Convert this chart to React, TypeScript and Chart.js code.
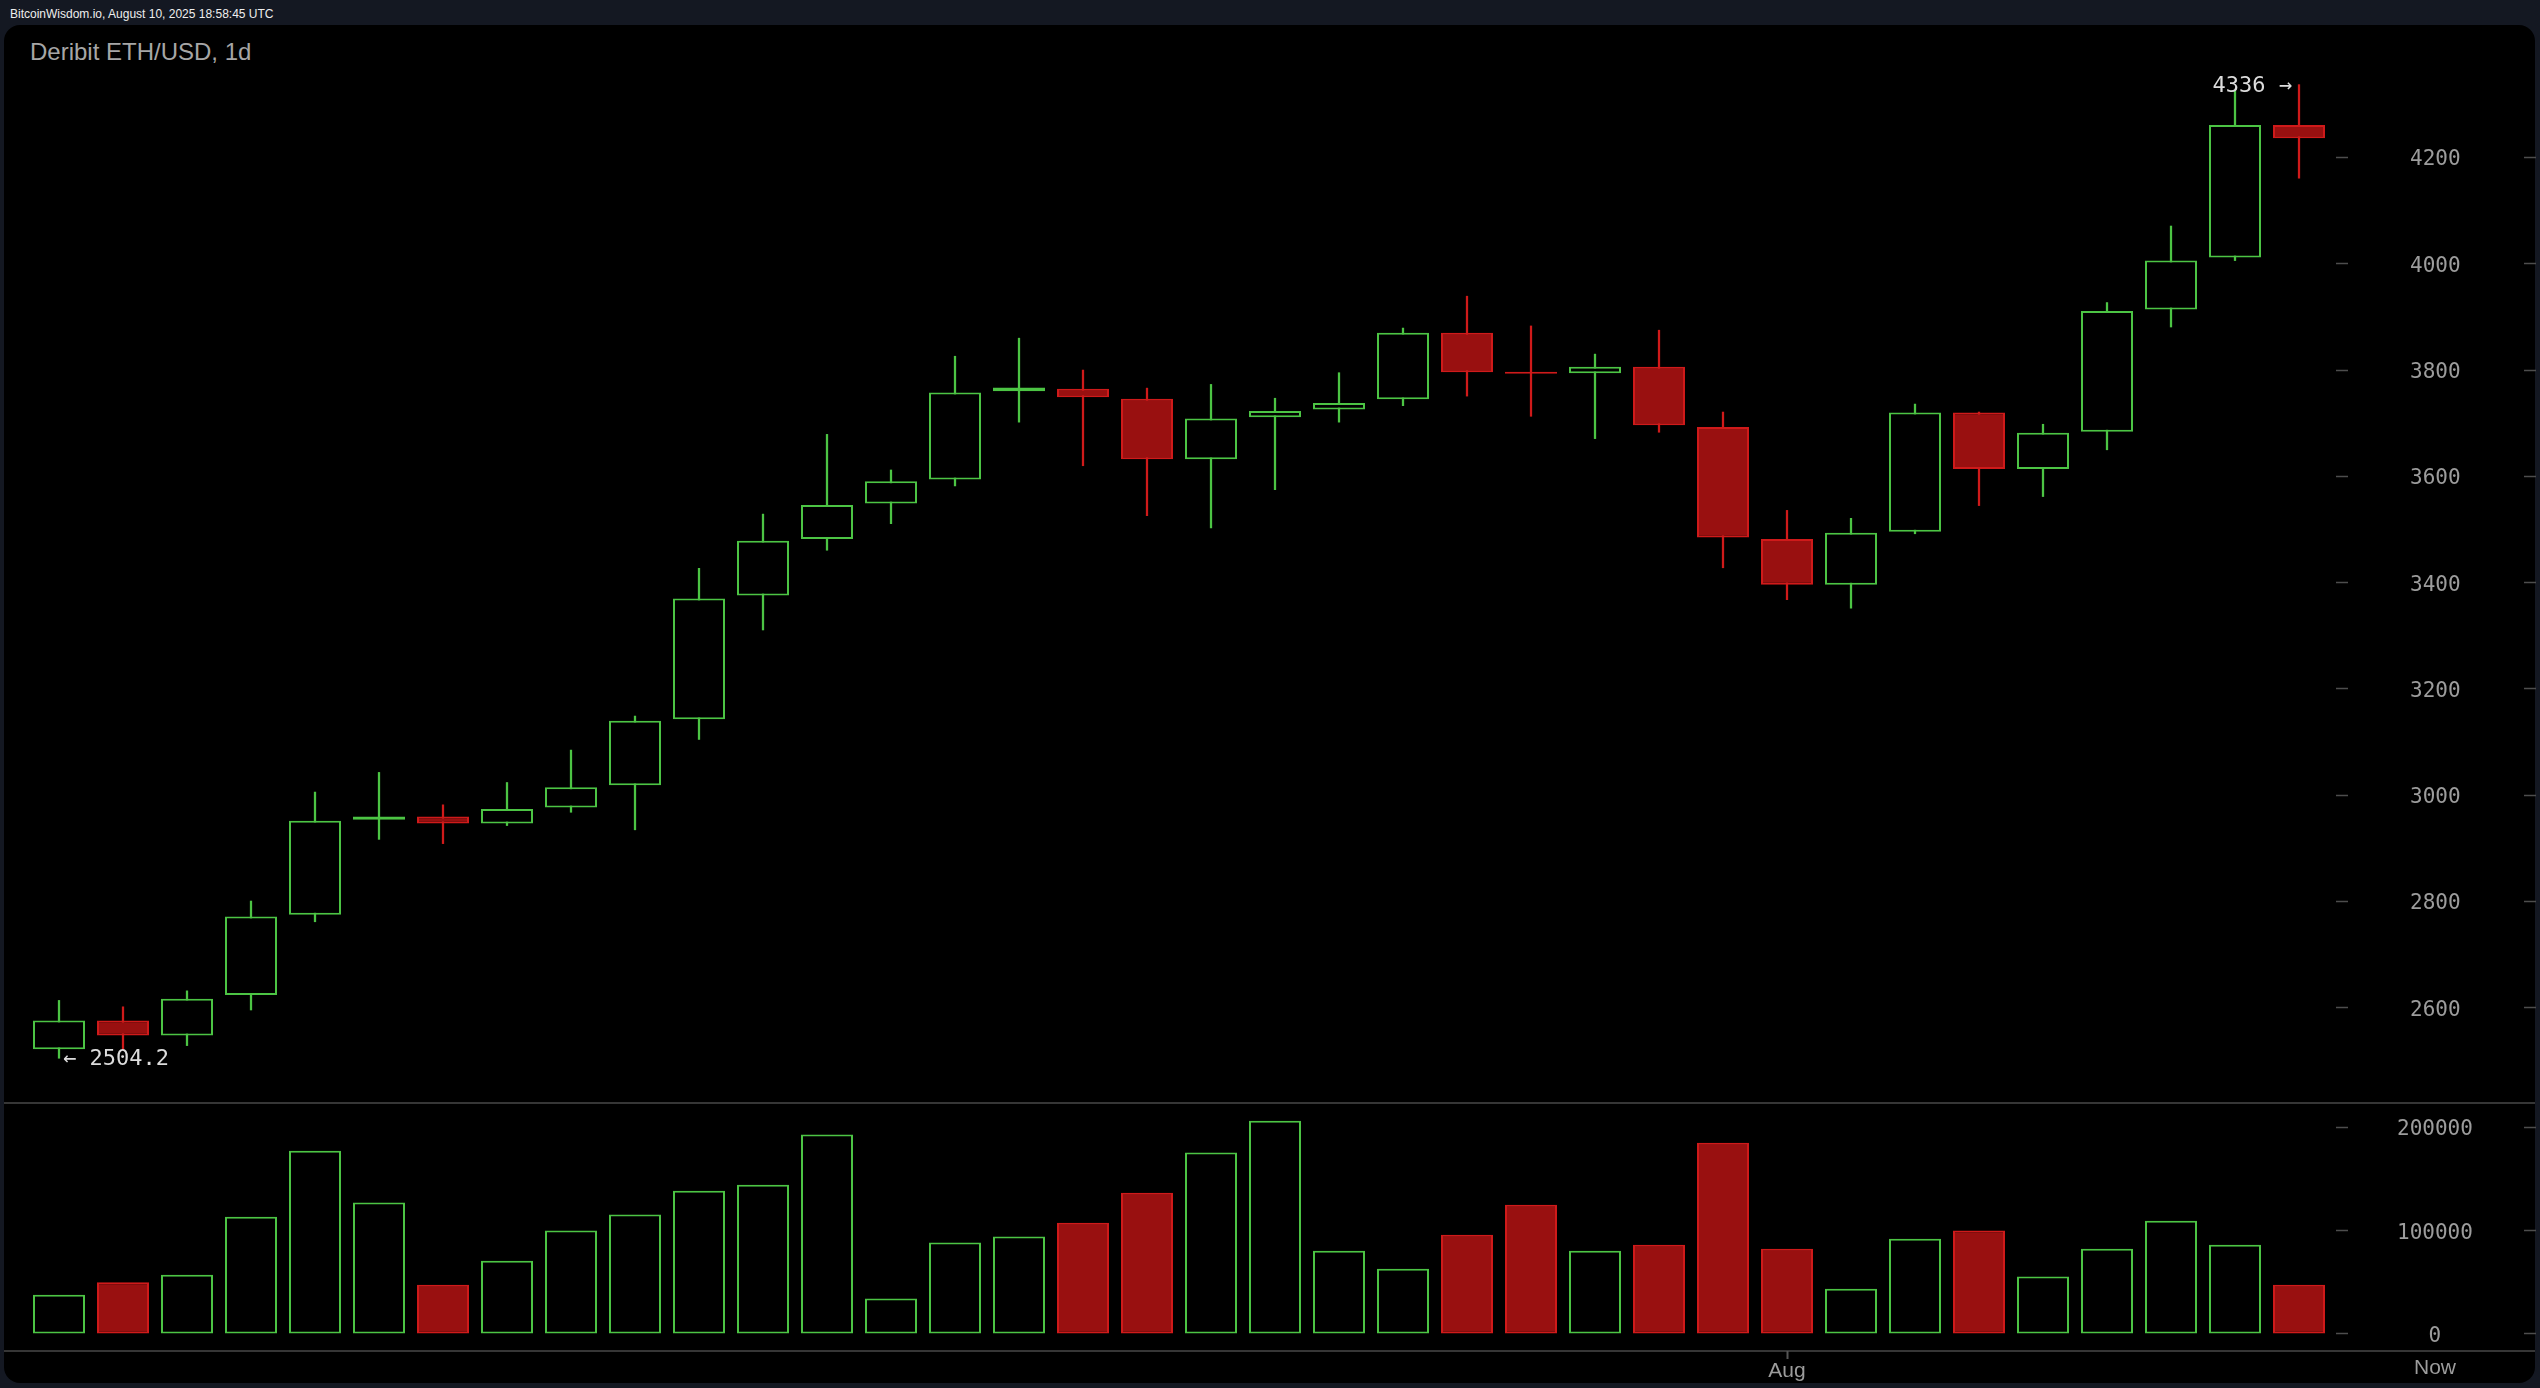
import React, { useEffect, useRef } from 'react';
import { Chart, registerables } from 'chart.js';

Chart.register(...registerables);

// ---------- data ----------
const dates = [
  '07-05', '07-06', '07-07', '07-08', '07-09', '07-10', '07-11', '07-12', '07-13', '07-14',
  '07-15', '07-16', '07-17', '07-18', '07-19', '07-20', '07-21', '07-22', '07-23', '07-24',
  '07-25', '07-26', '07-27', '07-28', '07-29', '07-30', '07-31', '08-01', '08-02', '08-03',
  '08-04', '08-05', '08-06', '08-07', '08-08', '08-09',
];
const opens = [
  2521, 2575, 2547, 2623, 2774, 2953, 2959, 2946, 2976, 3018,
  3142, 3375, 3481, 3548, 3593, 3759, 3764, 3745, 3631, 3710,
  3725, 3744, 3869, 3795, 3793, 3805, 3692, 3481, 3395, 3495,
  3719, 3613, 3683, 3913, 4011, 4260,
];
const highs = [
  2613, 2601, 2631, 2800, 3005, 3042, 2981, 3023, 3084, 3148,
  3426, 3528, 3678, 3611, 3825, 3859, 3799, 3765, 3772, 3746,
  3794, 3878, 3938, 3882, 3829, 3874, 3720, 3535, 3520, 3735,
  3720, 3697, 3926, 4070, 4325, 4336,
];
const lows = [
  2504.2, 2520, 2528, 2595, 2761, 2916, 2908, 2942, 2967, 2934,
  3104, 3310, 3460, 3510, 3581, 3701, 3619, 3525, 3502, 3574,
  3701, 3732, 3750, 3712, 3670, 3682, 3427, 3367, 3351, 3491,
  3544, 3561, 3649, 3880, 4005, 4160,
];
const closes = [
  2575, 2547, 2616, 2771, 2951, 2959, 2946, 2973, 3014, 3139,
  3369, 3478, 3545, 3590, 3757, 3766, 3748, 3631, 3708, 3722,
  3737, 3869, 3795, 3792, 3805, 3695, 3484, 3395, 3493, 3719,
  3613, 3681, 3910, 4005, 4260, 4235,
];
const volumes = [
  37500, 49500, 56900, 113000, 176900, 126600, 47200, 70400, 99500, 115000,
  138200, 144000, 192400, 33700, 87900, 93700, 107200, 136200, 175000, 205900,
  80100, 62700, 95600, 124600, 80100, 85900, 184600, 82000, 43300, 91700,
  99500, 55000, 82000, 109100, 85900, 47200,
];
const priceTicks = [2600, 2800, 3000, 3200, 3400, 3600, 3800, 4000, 4200];
const volumeTicks = [0, 100000, 200000];
const monthNames = ['Jan', 'Feb', 'Mar', 'Apr', 'May', 'Jun', 'Jul', 'Aug', 'Sep', 'Oct', 'Nov', 'Dec'];

// ---------- style ----------
const GREEN = '#4cc444';
const RED_FILL = '#991010';
const RED_LINE = '#cf1a1a';
const AXIS_TEXT = '#9c9c9c';
const DASH = '#4d4d4d';
const SEP = '#363636';
const MONO = '"DejaVu Sans Mono", monospace';
const SANS = '"Liberation Sans", Arial, sans-serif';

const isUp = (i: number) => closes[i] >= opens[i];
const monthLabel = (i: number) =>
  dates[i].endsWith('-01') ? monthNames[parseInt(dates[i].slice(0, 2), 10) - 1] : '';

const AXIS_W = 208;

const fitRightAxis = (s: any) => {
  s.width = AXIS_W;
  s.paddingTop = 0;
  s.paddingBottom = 0;
};

const dashPlugin = (scaleId: string) => ({
  id: 'dashes_' + scaleId,
  afterDraw(chart: any) {
    const ctx = chart.ctx;
    const s = chart.scales[scaleId];
    ctx.save();
    ctx.strokeStyle = DASH;
    ctx.lineWidth = 1.5;
    s.ticks.forEach((t: any) => {
      const y = Math.round(s.getPixelForValue(t.value)) + 0.5;
      ctx.beginPath();
      ctx.moveTo(chart.chartArea.right + 5, y);
      ctx.lineTo(chart.chartArea.right + 17, y);
      ctx.moveTo(chart.width - 16, y);
      ctx.lineTo(chart.width - 4, y);
      ctx.stroke();
    });
    ctx.restore();
  },
});

const extremesPlugin = {
  id: 'extremes',
  afterDatasetsDraw(chart: any) {
    const { ctx } = chart;
    const x = chart.scales.x;
    const y = chart.scales.y;
    let hi = 0;
    let lo = 0;
    highs.forEach((h, i) => { if (h > highs[hi]) hi = i; });
    lows.forEach((l, i) => { if (l < lows[lo]) lo = i; });
    ctx.save();
    ctx.font = '22px ' + MONO;
    ctx.fillStyle = '#dcdcdc';
    ctx.textBaseline = 'middle';
    ctx.textAlign = 'right';
    ctx.fillText(`${highs[hi]} \u2192`, x.getPixelForValue(hi) - 7, y.getPixelForValue(highs[hi]) + 2);
    ctx.textAlign = 'left';
    ctx.fillText(`\u2190 ${lows[lo]}`, x.getPixelForValue(lo) + 4, y.getPixelForValue(lows[lo]) + 1);
    ctx.restore();
  },
};

const framePlugin = {
  id: 'frame',
  beforeDraw(chart: any) {
    const ctx = chart.ctx;
    const { top, bottom } = chart.chartArea;
    ctx.save();
    ctx.fillStyle = SEP;
    ctx.fillRect(4, top - 1, 2531, 2);
    ctx.fillRect(4, bottom - 1, 2531, 2);
    ctx.restore();
  },
  afterDraw(chart: any) {
    const ctx = chart.ctx;
    const s = chart.scales.y;
    ctx.save();
    ctx.font = '21px ' + SANS;
    ctx.fillStyle = AXIS_TEXT;
    ctx.textAlign = 'center';
    ctx.textBaseline = 'middle';
    ctx.fillText('Now', s.left + s.width / 2, chart.chartArea.bottom + 17);
    ctx.restore();
  },
};

export default function App() {
  const priceRef = useRef<HTMLCanvasElement>(null);
  const volRef = useRef<HTMLCanvasElement>(null);

  useEffect(() => {
    const price = new Chart(priceRef.current as HTMLCanvasElement, {
      type: 'bar',
      data: {
        labels: dates,
        datasets: [
          {
            label: 'body',
            data: opens.map((o, i) => [o, closes[i]]) as any,
            backgroundColor: opens.map((_, i) => (isUp(i) ? '#000000' : RED_FILL)),
            borderColor: opens.map((_, i) => (isUp(i) ? GREEN : RED_LINE)),
            borderWidth: 2,
            borderSkipped: false,
            grouped: false,
            categoryPercentage: 1,
            barPercentage: 0.8125,
            minBarLength: 2,
          } as any,
          {
            label: 'wick',
            data: lows.map((l, i) => [l, highs[i]]) as any,
            backgroundColor: opens.map((_, i) => (isUp(i) ? GREEN : RED_LINE)),
            borderWidth: 0,
            grouped: false,
            barThickness: 1.6,
          } as any,
        ],
      },
      options: {
        animation: false,
        responsive: false,
        maintainAspectRatio: false,
        layout: { padding: { left: 27, right: 1, top: 40, bottom: 0 } },
        plugins: { legend: { display: false }, tooltip: { enabled: false } },
        scales: {
          x: { type: 'category', display: false, offset: true, grid: { display: false } },
          y: {
            type: 'linear',
            position: 'right',
            min: 2420,
            max: 4420,
            afterFit: fitRightAxis,
            afterBuildTicks: (s: any) => { s.ticks = priceTicks.map((v) => ({ value: v })); },
            grid: { display: false, drawTicks: false },
            border: { display: false },
            ticks: {
              crossAlign: 'center',
              padding: 79,
              labelOffset: 3,
              color: AXIS_TEXT,
              font: { family: MONO, size: 21 },
              callback: (v: any) => String(v),
            },
          },
        },
      } as any,
      plugins: [dashPlugin('y'), extremesPlugin],
    });

    const vol = new Chart(volRef.current as HTMLCanvasElement, {
      type: 'bar',
      data: {
        labels: dates,
        datasets: [
          {
            label: 'volume',
            data: volumes,
            backgroundColor: volumes.map((_, i) => (isUp(i) ? '#000000' : RED_FILL)),
            borderColor: volumes.map((_, i) => (isUp(i) ? GREEN : RED_LINE)),
            borderWidth: 2,
            borderSkipped: false,
            grouped: false,
            categoryPercentage: 1,
            barPercentage: 0.8125,
          } as any,
        ],
      },
      options: {
        animation: false,
        responsive: false,
        maintainAspectRatio: false,
        layout: { padding: { left: 27, right: 1, top: 3, bottom: 0 } },
        plugins: { legend: { display: false }, tooltip: { enabled: false } },
        scales: {
          x: {
            type: 'category',
            offset: true,
            afterFit: (s: any) => {
              s.height = 37;
              s.paddingLeft = 0;
              s.paddingRight = 0;
            },
            grid: {
              display: true,
              offset: false,
              drawOnChartArea: false,
              drawTicks: true,
              tickLength: 8,
              tickWidth: 2,
              tickColor: (c: any) => (monthLabel(c.index) ? '#555555' : 'rgba(0,0,0,0)'),
            },
            border: { display: false },
            ticks: {
              autoSkip: false,
              maxRotation: 0,
              minRotation: 0,
              padding: 0,
              color: AXIS_TEXT,
              font: { family: SANS, size: 21 },
              callback: (_v: any, i: number) => monthLabel(i),
            },
          },
          y: {
            type: 'linear',
            position: 'right',
            min: -17000,
            max: 223000,
            afterFit: fitRightAxis,
            afterBuildTicks: (s: any) => { s.ticks = volumeTicks.map((v) => ({ value: v })); },
            grid: { display: false, drawTicks: false },
            border: { display: false },
            ticks: {
              crossAlign: 'center',
              padding: 66,
              labelOffset: 3,
              color: AXIS_TEXT,
              font: { family: MONO, size: 21 },
              callback: (v: any) => String(v),
            },
          },
        },
      } as any,
      plugins: [framePlugin, dashPlugin('y')],
    });

    return () => {
      price.destroy();
      vol.destroy();
    };
  }, []);

  return (
    <div
      style={{
        position: 'fixed',
        left: 0,
        top: 0,
        width: 2540,
        height: 1388,
        background: '#141822',
        overflow: 'hidden',
      }}
    >
      <div
        style={{
          position: 'absolute',
          left: 10,
          top: 8,
          font: '12px ' + SANS,
          lineHeight: '12px',
          color: '#eeeeee',
          whiteSpace: 'nowrap',
        }}
      >
        BitcoinWisdom.io, August 10, 2025 18:58:45 UTC
      </div>
      <div
        style={{
          position: 'absolute',
          left: 4,
          top: 25,
          width: 2531,
          height: 1358,
          borderRadius: 16,
          background: '#000000',
        }}
      />
      <div
        style={{
          position: 'absolute',
          left: 30,
          top: 40,
          font: '24px ' + SANS,
          lineHeight: '24px',
          color: '#a6a6a6',
          whiteSpace: 'nowrap',
        }}
      >
        Deribit ETH/USD, 1d
      </div>
      <canvas
        ref={priceRef}
        width={2540}
        height={1103}
        style={{ position: 'absolute', left: 0, top: 0, width: 2540, height: 1103 }}
      />
      <canvas
        ref={volRef}
        width={2540}
        height={288}
        style={{ position: 'absolute', left: 0, top: 1100, width: 2540, height: 288 }}
      />
    </div>
  );
}
